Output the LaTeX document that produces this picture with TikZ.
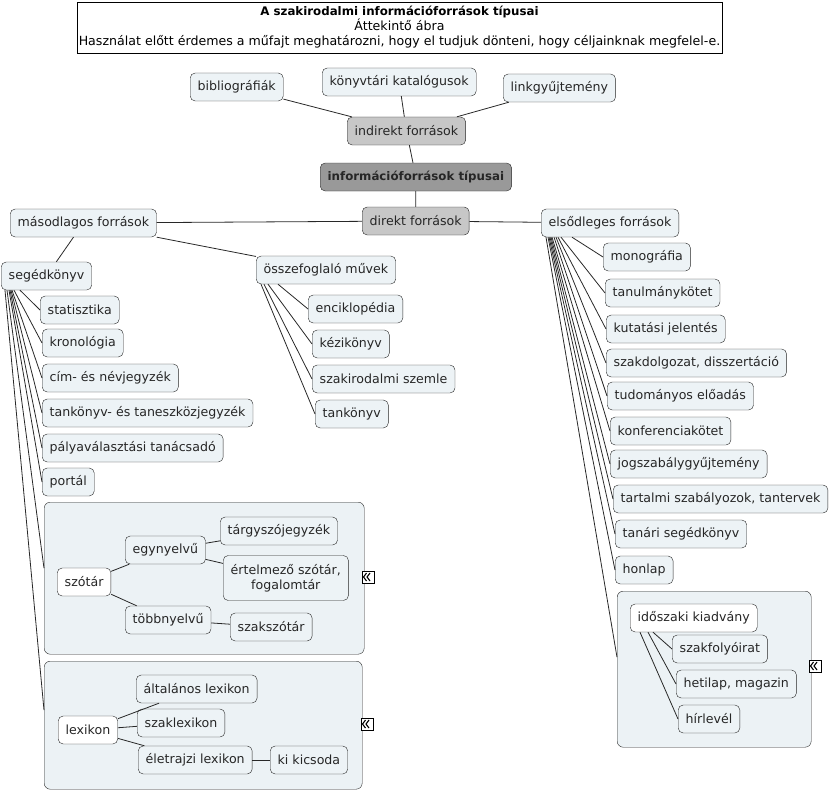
\documentclass[tikz,border=0pt]{standalone}
\usepackage{fontspec}
\setmainfont{DejaVu Sans}
\usetikzlibrary{positioning}

\definecolor{boxfill}{RGB}{237,243,246}
\definecolor{grpfill}{RGB}{236,242,245}
\definecolor{linegray}{RGB}{40,40,40}

\tikzset{
  box/.style={draw=black!85,rounded corners=5pt,fill=boxfill,anchor=west,
    font=\fontsize{12.6}{14}\selectfont,inner xsep=7.5pt,minimum height=28pt,text=black!85},
  wbox/.style={box,fill=white},
  gbox/.style={box,fill=black!22},
  cbox/.style={box,fill=black!40,font=\fontsize{11.8}{14}\selectfont\bfseries},
  grp/.style={draw=black!85,rounded corners=6pt,fill=grpfill,anchor=north west,inner sep=0pt},
  collapse/.style={draw,fill=white,inner sep=0pt,minimum size=12.5pt,
    path picture={
      \foreach \d in {-1.5,2}
        \draw[line width=1.1pt]([xshift=\d pt,yshift=-4pt]path picture bounding box.center)
          --+(-3pt,4pt)--+(0,8pt);}},
  con/.style={draw=linegray,line width=0.8pt}
}

\begin{document}
\begin{tikzpicture}[x=1pt,y=-1pt]
\useasboundingbox (0,0) rectangle (831,792);

% title
\node(title)[draw=black,fill=white,minimum width=645pt,minimum height=51pt,align=center,
  inner sep=1pt,font=\fontsize{12.6}{15}\selectfont] at (399.5,27.5)
  {{\fontsize{11.8}{15}\selectfont\bfseries A szakirodalmi információforrások típusai}\\Áttekintő ábra\\Használat előtt érdemes a műfajt meghatározni, hogy el tudjuk dönteni, hogy céljainknak megfelel-e.};

% group frames
\node(szgrp)[grp,minimum width=320pt,minimum height=152pt] at (44,502) {};
\node(lexgrp)[grp,minimum width=318pt,minimum height=128pt] at (44,661) {};
\node(idogrp)[grp,minimum width=194pt,minimum height=156pt] at (617,591) {};
\node(szcol)[collapse] at (368,577) {};
\node(lexcol)[collapse] at (367,724) {};
\node(idocol)[collapse] at (815,666) {};

% centre
\node(bib)[box] at (190,87) {bibliográfiák};
\node(kat)[box] at (322,82) {könyvtári katalógusok};
\node(link)[box] at (503,88) {linkgyűjtemény};
\node(indirekt)[gbox] at (347,131) {indirekt források};
\node(info)[cbox] at (320,177) {információforrások típusai};
\node(direkt)[gbox] at (362,221) {direkt források};
\node(mas)[box] at (10,223) {másodlagos források};
\node(elso)[box] at (541,223) {elsődleges források};

% masodlagos
\node(seg)[box] at (1,276) {segédkönyv};
\node(osszef)[box] at (256,270) {összefoglaló művek};
\node(stat)[box] at (40,310) {statisztika};
\node(kron)[box] at (42,343) {kronológia};
\node(cim)[box] at (42,378) {cím- és névjegyzék};
\node(tank)[box] at (42,413) {tankönyv- és taneszközjegyzék};
\node(palya)[box] at (42,448) {pályaválasztási tanácsadó};
\node(portal)[box] at (42,482) {portál};
\node(enc)[box] at (308,309) {enciklopédia};
\node(kezi)[box] at (312,344) {kézikönyv};
\node(szemle)[box] at (312,379) {szakirodalmi szemle};
\node(tankv)[box] at (315,414) {tankönyv};

% szotar
\node(szotar)[wbox] at (57,582) {szótár};
\node(egy)[box] at (125,550) {egynyelvű};
\node(targy)[box] at (220,531) {tárgyszójegyzék};
\node(ertel)[box,align=center,minimum height=45pt,font=\fontsize{12.6}{15}\selectfont] at (223,578) {értelmező szótár,\\fogalomtár};
\node(tobb)[box] at (125,620) {többnyelvű};
\node(szak)[box] at (230,627) {szakszótár};

% lexikon
\node(lex)[wbox] at (58,730) {lexikon};
\node(alt)[box] at (136,689) {általános lexikon};
\node(szlex)[box] at (137,723) {szaklexikon};
\node(elet)[box] at (138,760) {életrajzi lexikon};
\node(kik)[box] at (270,760) {ki kicsoda};

% elsodleges
\node(mono)[box] at (603,257) {monográfia};
\node(tanul)[box] at (605,293) {tanulmánykötet};
\node(kut)[box] at (606,329) {kutatási jelentés};
\node(szd)[box] at (606,363) {szakdolgozat, disszertáció};
\node(tud)[box] at (607,396) {tudományos előadás};
\node(konf)[box] at (610,431) {konferenciakötet};
\node(jog)[box] at (610,464) {jogszabálygyűjtemény};
\node(tart)[box] at (613,499) {tartalmi szabályozok, tantervek};
\node(tanari)[box] at (615,534) {tanári segédkönyv};
\node(honlap)[box] at (615,570) {honlap};
\node(ido)[wbox] at (630,618) {időszaki kiadvány};
\node(szf)[box] at (672,649) {szakfolyóirat};
\node(het)[box] at (676,684) {hetilap, magazin};
\node(hir)[box] at (678,719) {hírlevél};

\coordinate(szin) at ([yshift=10pt]szgrp.west);
\coordinate(lexin) at ([yshift=15pt]lexgrp.west);
\coordinate(idoin) at ([yshift=12pt]idogrp.west);

% node to node
\foreach \x/\y in {indirekt/bib,indirekt/kat,indirekt/link,info/indirekt,info/direkt,direkt/mas,direkt/elso,
  mas/seg,mas/osszef,szotar/egy,szotar/tobb,egy/targy,egy/ertel,tobb/szak,
  lex/alt,lex/szlex,lex/elet,elet/kik}
  \draw[con](\x)--(\y);

% fans
\foreach \n/\s in {stat.west/19,kron.west/13,cim.west/11,tank.west/10,palya.west/9,portal.west/8,szin/6,lexin/4}
  \draw[con]([xshift=\s pt]seg.south west)--(\n);
\foreach \n/\s in {enc.west/22,kezi.west/12,szemle.west/8,tankv.west/5}
  \draw[con]([xshift=\s pt]osszef.south west)--(\n);
\foreach \n/\s in {mono.west/31,tanul.west/20,kut.west/17,szd.west/15,tud.west/13,konf.west/11,jog.west/10,
  tart.west/9,tanari.west/8,honlap.west/7,idoin/5}
  \draw[con]([xshift=\s pt]elso.south west)--(\n);
\foreach \n/\s in {szf.west/23,het.west/18,hir.west/10}
  \draw[con]([xshift=\s pt]ido.south west)--(\n);

\end{tikzpicture}
\end{document}
